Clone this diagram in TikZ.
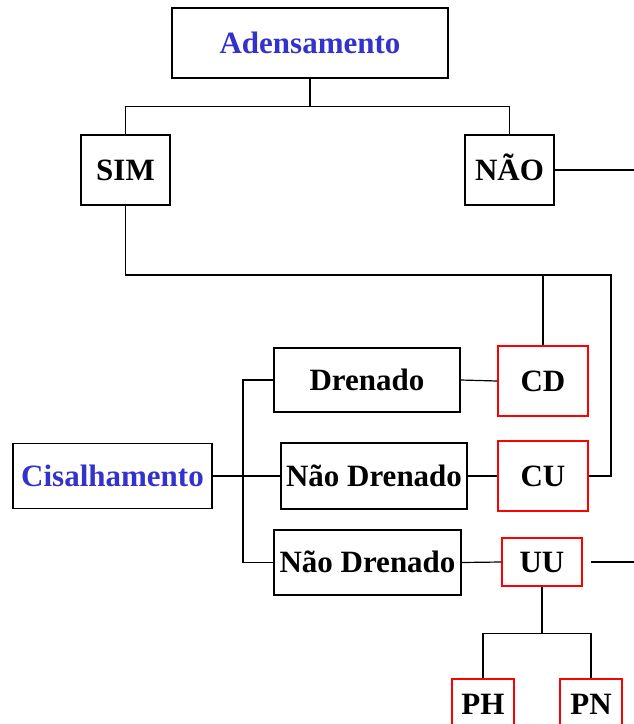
\documentclass[tikz,border=0pt]{standalone}
\usepackage{fontspec}
\setmainfont{Liberation Serif}
\definecolor{titleblue}{RGB}{51,51,204}
\definecolor{boxred}{RGB}{255,0,0}

\begin{document}
\begin{tikzpicture}[x=1pt, y=-1pt, line width=1.2pt,
	font=\fontsize{31}{37}\selectfont\bfseries,
	box/.style={draw=black, inner sep=0pt, text height=20.5pt, text depth=0pt, align=center},
	titlebox/.style={box, text=titleblue},
	redbox/.style={box, draw=boxred}]
	\useasboundingbox (0, 0) rectangle (634, 724);
	\clip (0, 0) rectangle (634, 724);

	% 1. Adensamento - SIM / NAO
	\node[titlebox, minimum width=276, minimum height=70] (aden) at (310, 43) {Adensamento};
	\node[box, minimum width=89, minimum height=70] (sim) at (125.5, 170) {SIM};
	\node[box, minimum width=89, minimum height=70] (nao) at (509.5, 170) {NÃO};
	\coordinate (redge) at (634, 0);
	\draw (aden.south) -- ++(0, 28) -| (sim.north);
	\draw (aden.south) -- ++(0, 28) -| (nao.north);
	\draw (nao.east) -- (nao.east -| redge);

	% 2. Cisalhamento - ramos
	\node[titlebox, minimum width=199, minimum height=65] (cis) at (112.5, 476) {Cisalhamento};
	\node[box, minimum width=186, minimum height=64] (dren) at (367, 380) {Drenado};
	\node[box, minimum width=186, minimum height=66] (nd1) at (374, 476) {Não Drenado};
	\node[box, minimum width=187, minimum height=65] (nd2) at (367.5, 562.5) {Não Drenado};
	\coordinate (fork) at (243, 476);
	\draw (cis.east) -- (nd1.west);
	\draw (dren.west) -| (fork) |- (nd2.west);

	% 3. Ensaios CD / CU / UU
	\node[redbox, minimum width=90, minimum height=70] (cd) at (543, 381) {CD};
	\node[redbox, minimum width=90, minimum height=70] (cu) at (543, 476) {CU};
	\node[redbox, minimum width=80, minimum height=48] (uu) at (542, 562) {UU};
	\draw (dren.east) -- (cd.west);
	\draw (nd1.east) -- (cu.west);
	\draw (nd2.east) -- (uu.west);
	\draw[shorten <=8pt] (uu.east) -- (uu.east -| redge);

	% 4. SIM liga CD e CU
	\coordinate (simrun) at (611, 275);
	\draw (sim.south) |- (simrun) |- (cu.east);
	\draw (cd.north) -- (cd.north |- simrun);

	% 5. UU - PH / PN
	\node[redbox, minimum width=62, minimum height=50] (ph) at (483, 704) {PH};
	\node[redbox, minimum width=62, minimum height=50] (pn) at (591, 704) {PN};
	\draw (uu.south) -- ++(0, 47) -| (ph.north);
	\draw (uu.south) -- ++(0, 47) -| (pn.north);
\end{tikzpicture}
\end{document}
